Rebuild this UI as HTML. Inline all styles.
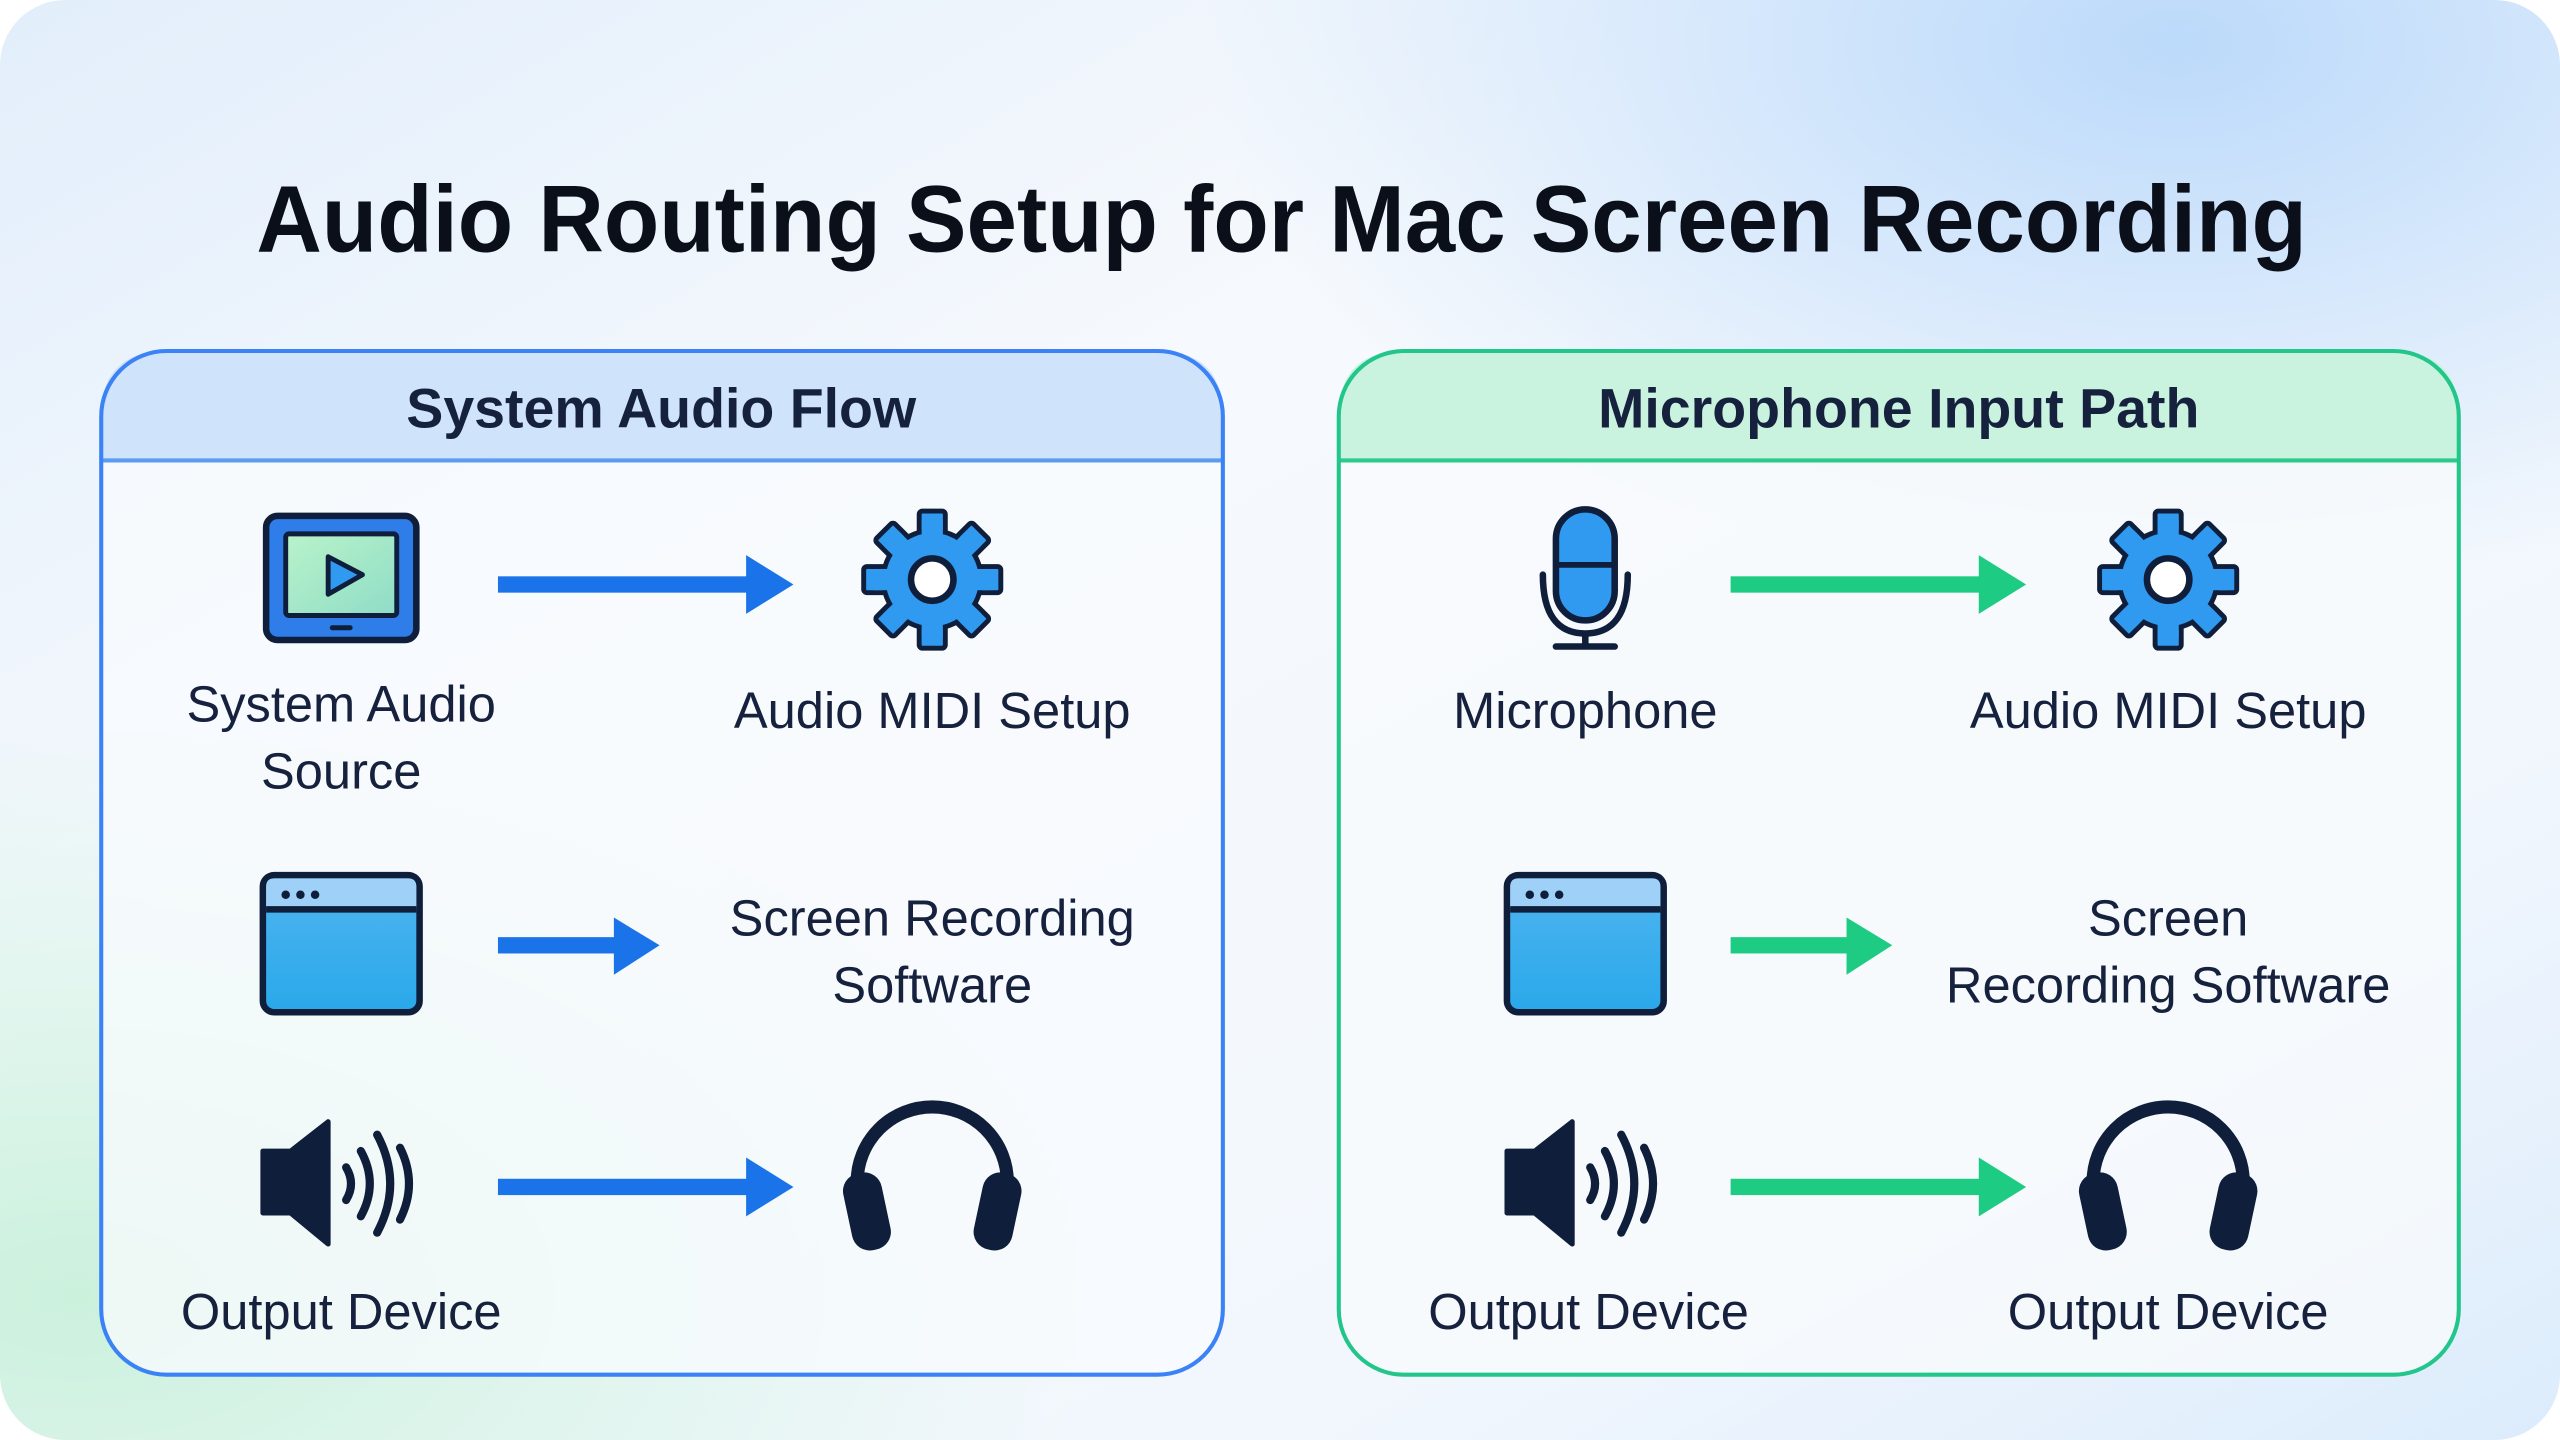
<!DOCTYPE html>
<html><head><meta charset="utf-8"><style>
html,body{margin:0;padding:0;background:#fff;width:2560px;height:1440px;overflow:hidden}
svg{display:block}
text{font-family:"Liberation Sans",sans-serif;fill:#16213e}
</style></head><body>
<svg width="2560" height="1440" viewBox="0 0 1568 882" xmlns="http://www.w3.org/2000/svg">
<defs>
<linearGradient id="bg" x1="0" y1="0" x2="1" y2="1">
<stop offset="0" stop-color="#e2eefb"/><stop offset="0.35" stop-color="#f6f9fd"/><stop offset="0.75" stop-color="#f2f7fd"/><stop offset="1" stop-color="#dcecfc"/>
</linearGradient>
<radialGradient id="g1" cx="0.03" cy="0.9" r="0.4"><stop offset="0" stop-color="#c6f0d9" stop-opacity="0.9"/><stop offset="1" stop-color="#c9f2dc" stop-opacity="0"/></radialGradient>
<radialGradient id="g2" cx="0.85" cy="0.03" r="0.38"><stop offset="0" stop-color="#b5d6fa" stop-opacity="0.9"/><stop offset="1" stop-color="#b5d6fa" stop-opacity="0"/></radialGradient>
<linearGradient id="scr" x1="0" y1="0" x2="1" y2="1"><stop offset="0" stop-color="#b9f3c9"/><stop offset="1" stop-color="#8fdcc8"/></linearGradient>
<linearGradient id="win" x1="0" y1="0" x2="0" y2="1"><stop offset="0" stop-color="#4fb5f0"/><stop offset="1" stop-color="#2aa8ea"/></linearGradient>
<g id="gear">
<g fill="#2f9af0" stroke="#0f1e3a" stroke-width="3" stroke-linejoin="round">
<rect x="-8" y="-42" width="16" height="20" rx="2"/>
<rect x="-8" y="-42" width="16" height="20" rx="2" transform="rotate(45)"/>
<rect x="-8" y="-42" width="16" height="20" rx="2" transform="rotate(90)"/>
<rect x="-8" y="-42" width="16" height="20" rx="2" transform="rotate(135)"/>
<rect x="-8" y="-42" width="16" height="20" rx="2" transform="rotate(180)"/>
<rect x="-8" y="-42" width="16" height="20" rx="2" transform="rotate(225)"/>
<rect x="-8" y="-42" width="16" height="20" rx="2" transform="rotate(270)"/>
<rect x="-8" y="-42" width="16" height="20" rx="2" transform="rotate(315)"/>
<circle r="30"/>
</g>
<g fill="#2f9af0">
<rect x="-6.5" y="-36" width="13" height="14"/><rect x="-6.5" y="-36" width="13" height="14" transform="rotate(45)"/><rect x="-6.5" y="-36" width="13" height="14" transform="rotate(90)"/><rect x="-6.5" y="-36" width="13" height="14" transform="rotate(135)"/><rect x="-6.5" y="-36" width="13" height="14" transform="rotate(180)"/><rect x="-6.5" y="-36" width="13" height="14" transform="rotate(225)"/><rect x="-6.5" y="-36" width="13" height="14" transform="rotate(270)"/><rect x="-6.5" y="-36" width="13" height="14" transform="rotate(315)"/>
</g>
<circle r="13" fill="#fff" stroke="#0f1e3a" stroke-width="4"/>
</g>
<g id="window">
<rect x="-48" y="-42" width="96" height="84" rx="7" fill="url(#win)" stroke="#0f1e3a" stroke-width="4"/>
<path d="M-46 -22 H46 V-35 Q46 -40 41 -40 H-41 Q-46 -40 -46 -35Z" fill="#9fd0f7"/>
<line x1="-46" y1="-21" x2="46" y2="-21" stroke="#0f1e3a" stroke-width="4"/>
<circle cx="-34" cy="-30" r="2.6" fill="#0f1e3a"/><circle cx="-25" cy="-30" r="2.6" fill="#0f1e3a"/><circle cx="-16" cy="-30" r="2.6" fill="#0f1e3a"/>
</g>
<g id="speaker" fill="#0f1e3a">
<path d="M-48 -20 H-31 L-8 -38 V37 L-31 18 H-48Z" stroke="#0f1e3a" stroke-width="3" stroke-linejoin="round"/>
<g fill="none" stroke="#0f1e3a" stroke-width="5" stroke-linecap="round">
<path d="M3 -10 Q9 0 3 10"/><path d="M12 -20 Q23 0 12 20"/><path d="M22 -30 Q38 0 22 30"/><path d="M36 -22 Q47 0 36 22"/>
</g>
</g>
<g id="phones">
<path d="M-46 22 V8 A46 46 0 0 1 46 8 V22" fill="none" stroke="#0f1e3a" stroke-width="8"/>
<rect x="-52" y="2" width="24" height="48" rx="11" fill="#0f1e3a" transform="rotate(-12 -40 26)"/>
<rect x="28" y="2" width="24" height="48" rx="11" fill="#0f1e3a" transform="rotate(12 40 26)"/>
</g>
</defs>
<rect width="1568" height="882" rx="40" fill="url(#bg)"/>
<rect width="1568" height="882" rx="40" fill="url(#g1)"/>
<rect width="1568" height="882" rx="40" fill="url(#g2)"/>
<text x="785" y="154" font-size="58" font-weight="bold" text-anchor="middle" textLength="1256" lengthAdjust="spacingAndGlyphs" style="fill:#0b0f1a">Audio Routing Setup for Mac Screen Recording</text>

<!-- left panel -->
<rect x="62" y="215" width="687" height="627" rx="40" fill="#f8fbfe" fill-opacity="0.75"/>
<path d="M62 282 V255 Q62 215 102 215 H709 Q749 215 749 255 V282Z" fill="#cfe3fb"/>
<line x1="62" y1="282" x2="749" y2="282" stroke="#5a9cf0" stroke-width="2.5"/>
<rect x="62" y="215" width="687" height="627" rx="40" fill="none" stroke="#3b82f6" stroke-width="2.5"/>
<text x="405" y="262" font-size="34" font-weight="bold" text-anchor="middle">System Audio Flow</text>

<!-- right panel -->
<rect x="820" y="215" width="686" height="627" rx="40" fill="#f8fbfc" fill-opacity="0.75"/>
<path d="M820 282 V255 Q820 215 860 215 H1466 Q1506 215 1506 255 V282Z" fill="#c9f3df"/>
<line x1="820" y1="282" x2="1506" y2="282" stroke="#2ccb8c" stroke-width="2.5"/>
<rect x="820" y="215" width="686" height="627" rx="40" fill="none" stroke="#22c58a" stroke-width="2.5"/>
<text x="1163" y="262" font-size="34" font-weight="bold" text-anchor="middle">Microphone Input Path</text>

<!-- left icons -->
<g>
<rect x="163" y="316" width="92" height="76" rx="7" fill="#2f7de8" stroke="#0f1e3a" stroke-width="4"/>
<rect x="175" y="327" width="68" height="50" rx="2" fill="url(#scr)" stroke="#0f1e3a" stroke-width="3"/>
<path d="M201 341 L222 352 L201 364Z" fill="#2f9af0" stroke="#0f1e3a" stroke-width="3" stroke-linejoin="round"/>
<rect x="202" y="383" width="14" height="3" rx="1.5" fill="#0f1e3a"/>
</g>
<use href="#gear" x="571" y="355"/>
<use href="#window" x="209" y="578"/>
<use href="#speaker" x="209" y="725"/>
<use href="#phones" x="571" y="716"/>
<g fill="#1a73e8">
<rect x="305" y="353" width="155" height="10"/><path d="M457 340 L486 358 L457 376Z"/>
<rect x="305" y="574" width="75" height="10"/><path d="M376 562 L404 579 L376 597Z"/>
<rect x="305" y="722" width="155" height="10"/><path d="M457 709 L486 727 L457 745Z"/>
</g>
<g font-size="31" text-anchor="middle">
<text x="209" y="442">System Audio</text><text x="209" y="483">Source</text>
<text x="571" y="446">Audio MIDI Setup</text>
<text x="571" y="573">Screen Recording</text><text x="571" y="614">Software</text>
<text x="209" y="814">Output Device</text>
</g>

<!-- right icons -->
<g>
<rect x="953" y="312" width="36" height="68" rx="18" fill="#2f9af0" stroke="#0f1e3a" stroke-width="4"/>
<line x1="953" y1="346" x2="989" y2="346" stroke="#0f1e3a" stroke-width="3.5"/>
<path d="M945 352 Q945 388 971 388 Q997 388 997 352" fill="none" stroke="#0f1e3a" stroke-width="4" stroke-linecap="round"/>
<line x1="971" y1="388" x2="971" y2="395" stroke="#0f1e3a" stroke-width="4"/>
<line x1="953" y1="396" x2="989" y2="396" stroke="#0f1e3a" stroke-width="4" stroke-linecap="round"/>
</g>
<use href="#gear" x="1328" y="355"/>
<use href="#window" x="971" y="578"/>
<use href="#speaker" x="971" y="725"/>
<use href="#phones" x="1328" y="716"/>
<g fill="#1ecb82">
<rect x="1060" y="353" width="155" height="10"/><path d="M1212 340 L1241 358 L1212 376Z"/>
<rect x="1060" y="574" width="75" height="10"/><path d="M1131 562 L1159 579 L1131 597Z"/>
<rect x="1060" y="722" width="155" height="10"/><path d="M1212 709 L1241 727 L1212 745Z"/>
</g>
<g font-size="31" text-anchor="middle">
<text x="971" y="446">Microphone</text>
<text x="1328" y="446">Audio MIDI Setup</text>
<text x="1328" y="573">Screen</text><text x="1328" y="614">Recording Software</text>
<text x="973" y="814">Output Device</text>
<text x="1328" y="814">Output Device</text>
</g>
</svg>
</body></html>
